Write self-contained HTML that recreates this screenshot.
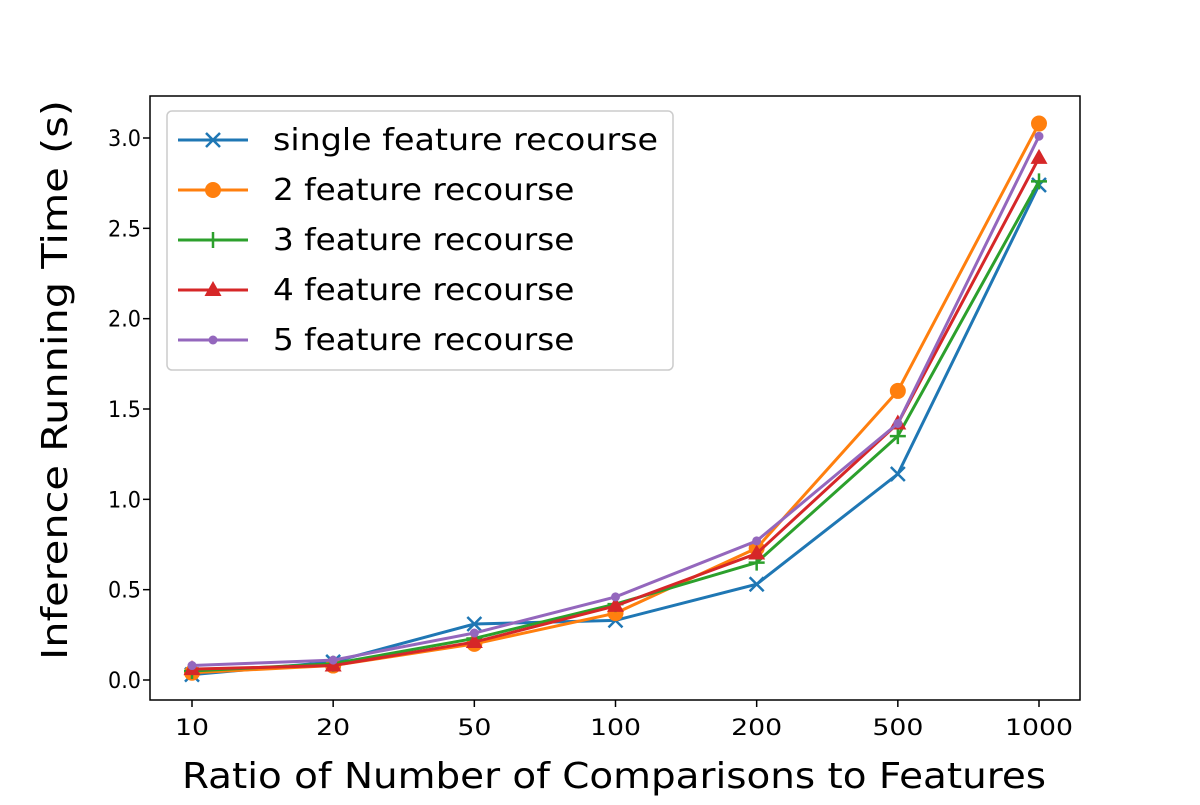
<!DOCTYPE html>
<html><head><meta charset="utf-8"><style>
body{margin:0;background:#fff}
svg text{font-family:"DejaVu Sans","Liberation Sans",sans-serif}
</style></head><body>
<svg id="chart" width="1200" height="800" xmlns="http://www.w3.org/2000/svg"></svg>
<script>
const categories=["10","20","50","100","200","500","1000"];
const yTicks=[0.0,0.5,1.0,1.5,2.0,2.5,3.0];
const seriesNames=["single feature recourse","2 feature recourse","3 feature recourse","4 feature recourse","5 feature recourse"];
const s1=[0.03,0.10,0.31,0.33,0.53,1.14,2.74];
const s2=[0.04,0.08,0.20,0.37,0.73,1.60,3.08];
const s3=[0.05,0.09,0.23,0.42,0.65,1.35,2.76];
const s4=[0.06,0.08,0.21,0.41,0.70,1.42,2.89];
const s5=[0.08,0.11,0.26,0.46,0.77,1.42,3.01];
const series=[s1,s2,s3,s4,s5];
const colors=["#1f77b4","#ff7f0e","#2ca02c","#d62728","#9467bd"];
const markers=["x","o","+","^","."];
const svg=document.getElementById('chart');
const NS="http://www.w3.org/2000/svg";
const L=150,R=1080,T=96,B=700;
const xs=i=>192+i*(1039-192)/(categories.length-1);
const ys=v=>680-v*(680-138)/3;
function mk(tag,attrs,parent){const e=document.createElementNS(NS,tag);for(const k in attrs)e.setAttribute(k,attrs[k]);(parent||svg).appendChild(e);return e;}
function marker(type,x,y,c,g){
 if(type==="x"){mk('path',{d:`M${x-7} ${y-7}L${x+7} ${y+7}M${x-7} ${y+7}L${x+7} ${y-7}`,stroke:c,'stroke-width':2.5,fill:'none'},g);}
 else if(type==="o"){mk('circle',{cx:x,cy:y,r:8,fill:c},g);}
 else if(type==="+"){mk('path',{d:`M${x-8} ${y}L${x+8} ${y}M${x} ${y-8}L${x} ${y+8}`,stroke:c,'stroke-width':2.5,fill:'none'},g);}
 else if(type==="^"){mk('path',{d:`M${x} ${y-9}L${x+8.5} ${y+6}L${x-8.5} ${y+6}Z`,fill:c},g);}
 else {mk('circle',{cx:x,cy:y,r:4.5,fill:c},g);}
}
categories.forEach((c,i)=>{
 const g=mk('g',{});
 mk('line',{x1:xs(i),x2:xs(i),y1:B,y2:B+7,stroke:'#000','stroke-width':1.5},g);
 const t=mk('text',{x:xs(i),y:B+35,'text-anchor':'middle','font-size':22,textLength:c.length*17,lengthAdjust:'spacingAndGlyphs'},g);t.textContent=c;
});
yTicks.forEach(v=>{
 const g=mk('g',{});
 mk('line',{x1:L-7,x2:L,y1:ys(v),y2:ys(v),stroke:'#000','stroke-width':1.5},g);
 const t=mk('text',{x:L-9,y:ys(v)+8,'text-anchor':'end','font-size':22,textLength:33,lengthAdjust:'spacingAndGlyphs'},g);t.textContent=v.toFixed(1);
});
series.forEach((s,k)=>{
 const g=mk('g',{});
 mk('polyline',{points:s.map((v,i)=>xs(i)+','+ys(v)).join(' '),fill:'none',stroke:colors[k],'stroke-width':3},g);
 s.forEach((v,i)=>marker(markers[k],xs(i),ys(v),colors[k],g));
});
const frame=mk('rect',{x:L,y:T,width:R-L,height:B-T,fill:'none',stroke:'#000','stroke-width':1.5});

const lg=mk('g',{});
mk('rect',{x:167,y:111,width:506,height:259,rx:5,fill:'#fff','fill-opacity':0.8,stroke:'#ccc','stroke-width':1.5},lg);
seriesNames.forEach((n,k)=>{
 const g=mk('g',{},lg);
 const y=140+k*50;
 mk('line',{x1:178,x2:248,y1:y,y2:y,stroke:colors[k],'stroke-width':3},g);
 marker(markers[k],213,y,colors[k],g);
 const t=mk('text',{x:273,y:y+10,'font-size':30,textLength:n.length*16.74,lengthAdjust:'spacingAndGlyphs'},g);t.textContent=n;
});
const xt=mk('text',{x:614,y:788,'text-anchor':'middle','font-size':36,textLength:864,lengthAdjust:'spacingAndGlyphs'});xt.textContent="Ratio of Number of Comparisons to Features";

const yt=mk('text',{x:0,y:0,'text-anchor':'middle','font-size':36,textLength:560,lengthAdjust:'spacingAndGlyphs',transform:'translate(67,380) rotate(-90)'});yt.textContent="Inference Running Time (s)";

</script>
</body></html>
